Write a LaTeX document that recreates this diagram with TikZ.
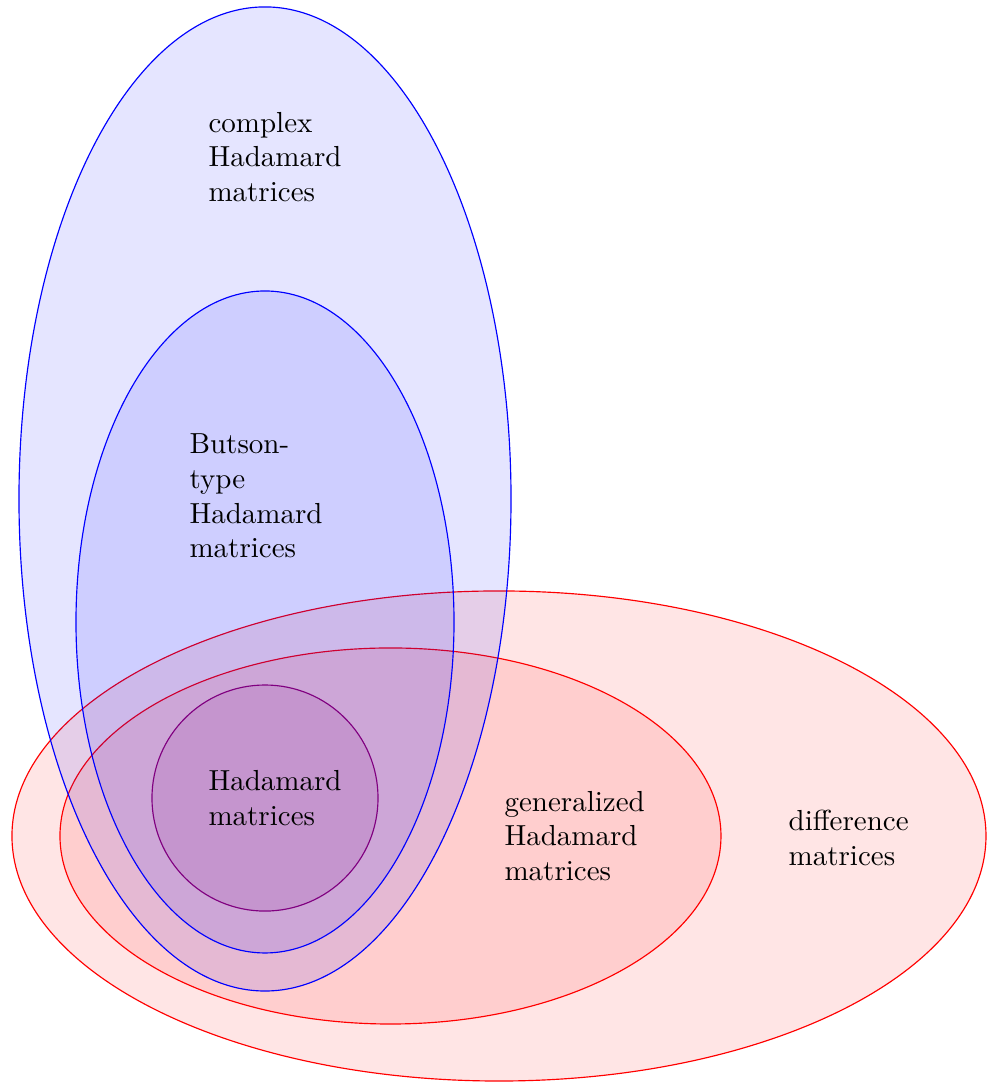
\documentclass[tikz,border=0pt]{standalone}
\usepackage{xcolor}
\usepackage{tikz}

\tikzset{
  setlabel/.style={anchor=west, inner sep=0pt, align=left},
  blueset/.style={draw=blue, fill=blue, fill opacity=0.1},
  redset/.style={draw=red, fill=red, fill opacity=0.1},
  purpleset/.style={draw=violet, fill=violet, fill opacity=0.1}
}

\begin{document}
\begin{tikzpicture}[line cap=round, line join=round]
  \useasboundingbox (0,0) rectangle (11.952,-13.115);
  % the sets
  \draw[redset] (6.048,-10.133) ellipse (5.903cm and 2.970cm);
  \draw[redset] (4.733,-10.133) ellipse (4.006cm and 2.279cm);
  \draw[blueset] (3.212,-6.048) ellipse (2.982cm and 5.964cm);
  \draw[blueset] (3.212,-7.539) ellipse (2.291cm and 4.012cm);
  \draw[purpleset] (3.212,-9.673) circle (1.370cm);
  % their names
  \node[setlabel] (complex) at (2.521,-1.903) {complex\\Hadamard\\matrices};
  \node[setlabel] (butson) at (2.291,-6.012) {Butson-\\type\\Hadamard\\matrices};
  \node[setlabel] (hadamard) at (2.521,-9.673) {Hadamard\\matrices};
  \node[setlabel] (generalized) at (6.109,-10.133) {generalized\\Hadamard\\matrices};
  \node[setlabel] (difference) at (9.552,-10.158) {difference\\matrices};
\end{tikzpicture}
\end{document}
